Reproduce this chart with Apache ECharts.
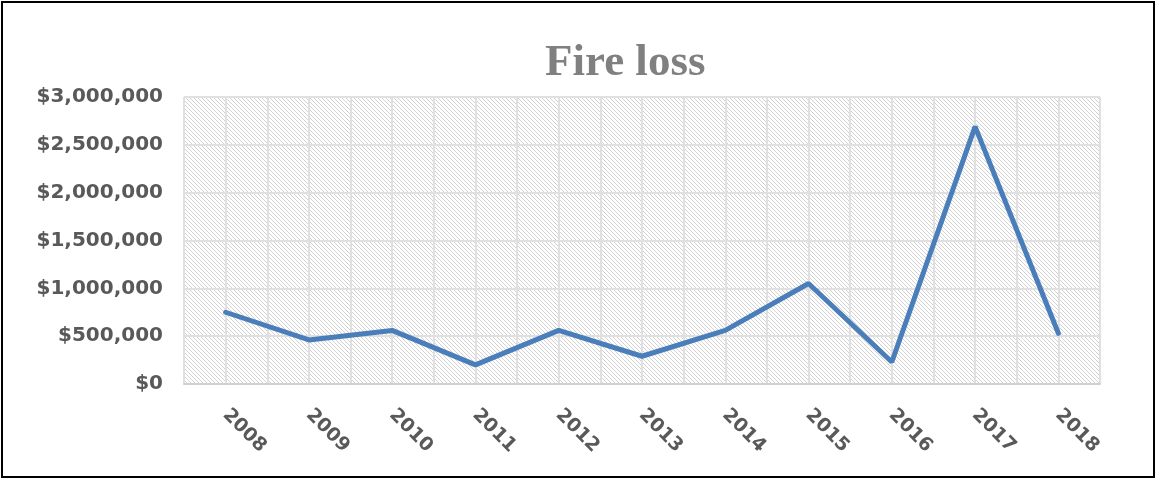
<!DOCTYPE html>
<html>
<head>
<meta charset="utf-8">
<script src="https://cdn.jsdelivr.net/npm/echarts@6/dist/echarts.min.js"></script>
<style>
  html, body { margin: 0; padding: 0; background: #fff; }
  #chart { width: 1156px; height: 479px; }
</style>
</head>
<body>
<div id="chart"></div>
<script>
var years = ['2008', '2009', '2010', '2011', '2012', '2013', '2014', '2015', '2016', '2017', '2018'];
var fireLoss = [750000, 460000, 560000, 200000, 560000, 290000, 560000, 1050000, 230000, 2690000, 530000];

// diagonal hatch for the plot area
function hatch() {
	var c = document.createElement('canvas');
	c.width = 8;
	c.height = 8;
	var ctx = c.getContext('2d');
	ctx.fillStyle = '#ffffff';
	ctx.fillRect(0, 0, 8, 8);
	ctx.fillStyle = '#d2d2d2';
	for (var y = 0; y < 8; y++) {
		for (var x = 0; x < 8; x++) {
			if ((x - y + 8) % 4 === 0) ctx.fillRect(x, y, 1, 1);
		}
	}
	return c;
}

var myChart = echarts.init(document.getElementById('chart'));
var labelFont = {
	color : '#595959',
	fontFamily : 'DejaVu Sans',
	fontWeight : 'bold',
	fontSize : 20
};

var option = {
	backgroundColor : '#fff',
	animation : false,
	title : {
		text : 'Fire loss',
		left : 540,
		top : 36,
		textStyle : {
			color : '#808080',
			fontFamily : 'Liberation Serif',
			fontWeight : 'bold',
			fontSize : 45
		}
	},
	graphic : [ {
		type : 'rect',
		shape : { x : 2, y : 2, width : 1152, height : 475 },
		style : { fill : 'none', stroke : '#000', lineWidth : 2 },
		silent : true
	} ],
	grid : {
		left : 184,
		right : 56,
		top : 97,
		bottom : 95,
		show : true,
		borderWidth : 0,
		backgroundColor : { image : hatch(), repeat : 'repeat' }
	},
	xAxis : [ {
		type : 'category',
		data : years,
		boundaryGap : true,
		axisLine : { lineStyle : { color : '#d0d0d0', width : 2 } },
		axisTick : { show : false },
		splitLine : { show : false },
		axisLabel : Object.assign({}, labelFont, {
			fontSize : 19,
			rotate : -45,
			interval : 0,
			margin : 28
		})
	}, {
		// half-category grid lines (centres and boundaries)
		type : 'value',
		min : 0,
		max : years.length * 2,
		interval : 1,
		position : 'bottom',
		axisLine : { show : false },
		axisTick : { show : false },
		axisLabel : { show : false },
		splitLine : { show : true, lineStyle : { color : '#e0e0e0', width : 2 } }
	} ],
	yAxis : {
		type : 'value',
		min : 0,
		max : 3000000,
		interval : 500000,
		axisLine : { show : false },
		axisTick : { show : false },
		splitLine : { lineStyle : { color : '#e0e0e0', width : 2 } },
		axisLabel : Object.assign({}, labelFont, {
			margin : 21,
			formatter : function(v) {
				return '$' + v.toLocaleString('en-US');
			}
		})
	},
	series : [ {
		name : 'Fire loss',
		type : 'line',
		xAxisIndex : 0,
		data : fireLoss,
		showSymbol : false,
		symbol : 'none',
		lineStyle : { color : '#4a7ebb', width : 5, cap : 'round' },
		z : 5
	} ]
};
myChart.setOption(option);
</script>
</body>
</html>
